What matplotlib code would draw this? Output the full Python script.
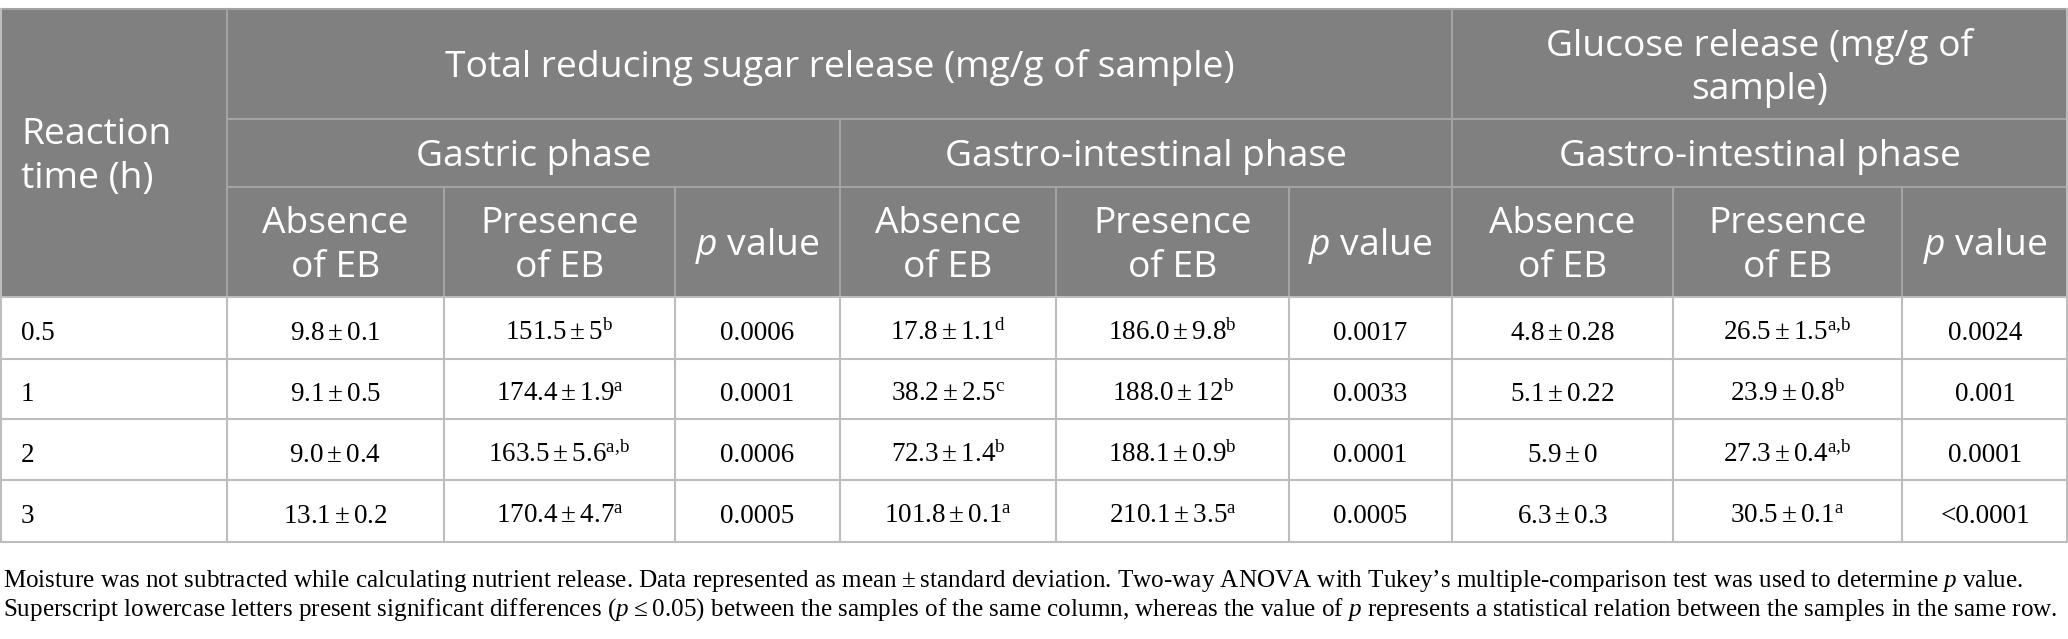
import matplotlib.pyplot as plt
from matplotlib.patches import Rectangle

plt.rcParams['mathtext.fontset'] = 'custom'
plt.rcParams['mathtext.rm'] = 'Liberation Serif'
plt.rcParams['mathtext.it'] = 'Liberation Serif:italic'
plt.rcParams['mathtext.sf'] = 'Open Sans:italic'

# table values
times = ['0.5', '1', '2', '3']

gas_abs_mean = ['9.8', '9.1', '9.0', '13.1']
gas_abs_sd = ['0.1', '0.5', '0.4', '0.2']
gas_pre_mean = ['151.5', '174.4', '163.5', '170.4']
gas_pre_sd = ['5', '1.9', '5.6', '4.7']
gas_pre_sup = ['b', 'a', 'a,b', 'a']
gas_p = ['0.0006', '0.0001', '0.0006', '0.0005']

gi_abs_mean = ['17.8', '38.2', '72.3', '101.8']
gi_abs_sd = ['1.1', '2.5', '1.4', '0.1']
gi_abs_sup = ['d', 'c', 'b', 'a']
gi_pre_mean = ['186.0', '188.0', '188.1', '210.1']
gi_pre_sd = ['9.8', '12', '0.9', '3.5']
gi_pre_sup = ['b', 'b', 'b', 'a']
gi_p = ['0.0017', '0.0033', '0.0001', '0.0005']

glu_abs_mean = ['4.8', '5.1', '5.9', '6.3']
glu_abs_sd = ['0.28', '0.22', '0', '0.3']
glu_pre_mean = ['26.5', '23.9', '27.3', '30.5']
glu_pre_sd = ['1.5', '0.8', '0.4', '0.1']
glu_pre_sup = ['a,b', 'b', 'a,b', 'a']
glu_p = ['0.0024', '0.001', '0.0001', '<0.0001']

footnote = [
    'Moisture was not subtracted while calculating nutrient release. Data represented as mean\u2009±\u2009standard deviation. '
    'Two-way ANOVA with Tukey\u2019s multiple-comparison test was used to determine $\\mathit{p}$ value.',
    'Superscript lowercase letters present significant differences ($\\mathit{p}$\u2009≤\u20090.05) between the samples of the same column, '
    'whereas the value of $\\mathit{p}$ represents a statistical relation between the samples in the same row.',
]


def pm(mean, sd, sup=None):
    s = r'$\mathrm{%s}\pm\mathrm{%s}' % (mean, sd)
    if sup:
        # mathtext pads commas, pull the letters back together
        s += r'^{\mathrm{%s}}' % sup.replace(',', r',\!')
    return s + '$'


columns = [
    times,
    [pm(m, s) for m, s in zip(gas_abs_mean, gas_abs_sd)],
    [pm(m, s, u) for m, s, u in zip(gas_pre_mean, gas_pre_sd, gas_pre_sup)],
    gas_p,
    [pm(m, s, u) for m, s, u in zip(gi_abs_mean, gi_abs_sd, gi_abs_sup)],
    [pm(m, s, u) for m, s, u in zip(gi_pre_mean, gi_pre_sd, gi_pre_sup)],
    gi_p,
    [pm(m, s) for m, s in zip(glu_abs_mean, glu_abs_sd)],
    [pm(m, s, u) for m, s, u in zip(glu_pre_mean, glu_pre_sd, glu_pre_sup)],
    glu_p,
]

W, H = 2068, 639
xs = [0, 227, 444, 675, 840, 1056, 1289, 1452, 1673, 1902, 2068]
ys = [9, 119, 187, 297, 359, 419, 480, 542]

fig = plt.figure(figsize=(W / 100, H / 100), dpi=100)
ax = fig.add_axes([0, 0, 1, 1])
ax.set_xlim(0, W)
ax.set_ylim(H, 0)
ax.axis('off')

hdr_bg = '#808080'
hdr_line = '#a3a3a3'
body_line = '#bdbdbd'
ax.add_patch(Rectangle((0, ys[0]), W, ys[3] - ys[0], color=hdr_bg, lw=0, zorder=0))

renderer = fig.canvas.get_renderer()

# header font size fitted to the long title width
probe = ax.text(0, 0, 'Total reducing sugar release (mg/g of sample)', family='Open Sans', fontsize=20)
hfs = 20 * 789 / probe.get_window_extent(renderer).width
probe.remove()

hkw = dict(family='Open Sans', fontsize=hfs, color='white', linespacing=1.28)


def hcenter(c0, c1, r0, r1, s):
    x = (xs[c0] + xs[c1]) / 2
    y = (ys[r0] + ys[r1]) / 2
    if '\n' in s:
        ax.text(x, y + 4, s, ha='center', va='center', **hkw)
    else:
        ax.text(x, y + 13, s, ha='center', va='baseline', **hkw)


ax.text(21, (ys[0] + ys[3]) / 2 + 4, 'Reaction\ntime (h)', ha='left', va='center', **hkw)
hcenter(1, 7, 0, 1, 'Total reducing sugar release (mg/g of sample)')
hcenter(7, 10, 0, 1, 'Glucose release (mg/g of\nsample)')
hcenter(1, 4, 1, 2, 'Gastric phase')
hcenter(4, 7, 1, 2, 'Gastro-intestinal phase')
hcenter(7, 10, 1, 2, 'Gastro-intestinal phase')
sub = ['Absence\nof EB', 'Presence\nof EB', r'$\mathsf{p}$ value']
for k in range(9):
    hcenter(k + 1, k + 2, 2, 3, sub[k % 3])

# body
for r in range(4):
    yb = (ys[3 + r] + ys[4 + r]) / 2 + 12
    for c, col in enumerate(columns):
        if c == 0:
            ax.text(21, yb, col[r], ha='left', va='baseline', family='Liberation Serif', fontsize=19.5)
        else:
            ax.text((xs[c] + xs[c + 1]) / 2, yb, col[r], ha='center', va='baseline',
                    family='Liberation Serif', fontsize=19.5)

# grid lines
lw = 1.5
ax.plot([0, W], [ys[0], ys[0]], color=hdr_line, lw=lw)
for y in ys[1:3]:
    ax.plot([xs[1], W], [y, y], color=hdr_line, lw=lw)
ax.plot([xs[1], xs[1]], [ys[0], ys[3]], color=hdr_line, lw=lw)
ax.plot([xs[7], xs[7]], [ys[0], ys[3]], color=hdr_line, lw=lw)
ax.plot([xs[4], xs[4]], [ys[1], ys[3]], color=hdr_line, lw=lw)
for c in [2, 3, 5, 6, 8, 9]:
    ax.plot([xs[c], xs[c]], [ys[2], ys[3]], color=hdr_line, lw=lw)
for y in ys[3:]:
    ax.plot([0, W], [y, y], color=body_line, lw=lw)
for x in xs[1:-1]:
    ax.plot([x, x], [ys[3], ys[-1]], color=body_line, lw=lw)
ax.plot([1, 1], [ys[0], ys[-1]], color=body_line, lw=lw)
ax.plot([W - 1, W - 1], [ys[0], ys[-1]], color=body_line, lw=lw)

# footnote, sized to fit the width
probe = ax.text(0, 0, footnote[1], family='Liberation Serif', fontsize=18)
ffs = 18 * 2055 / probe.get_window_extent(renderer).width
probe.remove()
for line, yb in zip(footnote, [587, 616]):
    ax.text(3, yb, line, ha='left', va='baseline', family='Liberation Serif', fontsize=ffs)

fig.savefig('out.png', dpi=100)
